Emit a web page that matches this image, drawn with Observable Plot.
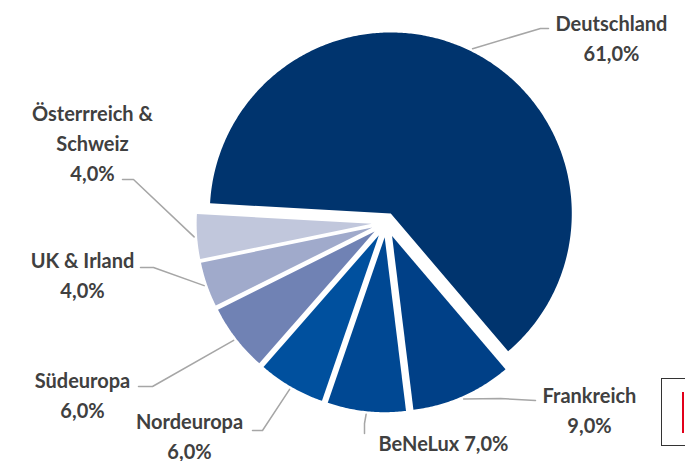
<!DOCTYPE html>
<html>
<head>
<meta charset="utf-8">
<script src="https://cdn.jsdelivr.net/npm/d3@7"></script>
<script src="https://cdn.jsdelivr.net/npm/@observablehq/plot@0.6"></script>
<style>
  html, body { margin: 0; padding: 0; background: #fff; overflow: hidden; }
  #wrap { position: relative; width: 685px; height: 461px; overflow: hidden; }
  #box { position: absolute; left: 661px; top: 378px; width: 60px; height: 68px; border: 1.5px solid #333; box-sizing: border-box; }
  #bar { position: absolute; left: 682px; top: 392px; width: 2px; height: 41px; background: #e2001a; }
</style>
</head>
<body>
<div id="wrap"><div id="chart"></div><div id="box"></div><div id="bar"></div></div>
<script>
// ---- data ----
const regions = ["Deutschland", "Frankreich", "BeNeLux", "Nordeuropa", "Südeuropa", "UK & Irland", "Österrreich & Schweiz"];
const shares = [61, 9, 7, 6, 6, 4, 4];
const valueLabels = ["61,0%", "9,0%", "7,0%", "6,0%", "6,0%", "4,0%", "4,0%"];
const labelTexts = ["Deutschland\n61,0%", "Frankreich\n9,0%", "BeNeLux 7,0%", "Nordeuropa\n6,0%", "Südeuropa\n6,0%", "UK & Irland\n4,0%", "Österrreich &\nSchweiz\n4,0%"];
const colors = ["#00346e", "#004087", "#004893", "#00509e", "#7082b4", "#a0aacb", "#c1c7dc"];

// ---- layout (pixels) ----
const W = 685, H = 461;
const center = [385.7, 222.2];
const startDeg = 273.2;
const radius = [181, 175, 175, 175, 175, 175, 175];
const explode = [10.3, 14.6, 14.6, 14.6, 14.6, 14.6, 14.6];
// label anchor (center x, first baseline) and leader elbow/end points
const labelPos = [[611, 30], [589, 402], [443, 450], [189, 428], [82, 387], [82, 267], [92, 120]];
const leaderElbow = [[540, 28], [500, 398], [364, 423], [262, 430], [152, 386], [153, 267], [133, 179]];
const leaderEnd = [[548, 28], [535, 400], [364, 433], [252, 430], [138, 386], [140, 267], [122, 179]];

const FONT = 20, TOPOFF = 21;

const pie = d3.pie().sort(null).value(d => d)
  .startAngle(startDeg * Math.PI / 180)
  .endAngle(startDeg * Math.PI / 180 + 2 * Math.PI)(shares);

const polys = [];
const leaders = [];
pie.forEach((p, i) => {
  const mid = (p.startAngle + p.endAngle) / 2;
  const ax = center[0] + explode[i] * Math.sin(mid);
  const ay = center[1] - explode[i] * Math.cos(mid);
  const pts = [{name: regions[i], x: ax, y: ay}];
  const n = Math.max(8, Math.ceil((p.endAngle - p.startAngle) / 0.01));
  for (let k = 0; k <= n; k++) {
    const a = p.startAngle + (p.endAngle - p.startAngle) * k / n;
    pts.push({name: regions[i], x: ax + radius[i] * Math.sin(a), y: ay - radius[i] * Math.cos(a)});
  }
  polys.push(pts);
  const r0 = radius[i] + 3;
  leaders.push({name: regions[i], x: ax + r0 * Math.sin(mid), y: ay - r0 * Math.cos(mid)});
  leaders.push({name: regions[i], x: leaderElbow[i][0], y: leaderElbow[i][1]});
  leaders.push({name: regions[i], x: leaderEnd[i][0], y: leaderEnd[i][1]});
});

const labels = regions.map((r, i) => ({name: r, text: labelTexts[i], x: labelPos[i][0], y: labelPos[i][1] - TOPOFF}));

const chart = Plot.plot({
  width: W, height: H,
  margin: 0,
  x: {domain: [0, W], range: [0, W], axis: null},
  y: {domain: [0, H], range: [0, H], axis: null},
  style: {background: "#fff"},
  marks: [
    ...polys.map((pts, i) => Plot.line(pts, {x: "x", y: "y", fill: colors[i], stroke: "none", curve: "linear-closed"})),
    Plot.line(leaders, {x: "x", y: "y", z: "name", stroke: "#a6a6a6", strokeWidth: 1.5}),
    Plot.text(labels, {x: "x", y: "y", text: "text", textAnchor: "middle", lineAnchor: "top", lineHeight: 1.5,
      fontSize: FONT, fontWeight: 700, fill: "#404040", fontFamily: "Lato, 'Open Sans', sans-serif"})
  ]
});
document.getElementById("chart").appendChild(chart);
</script>
</body>
</html>
